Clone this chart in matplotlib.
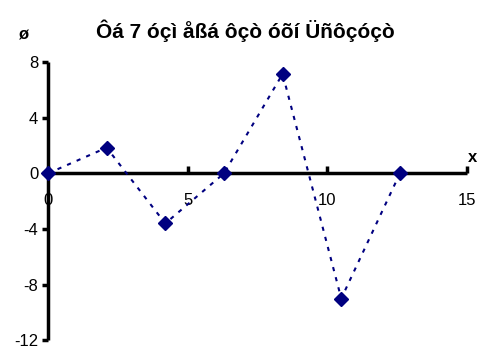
import matplotlib
matplotlib.use('Agg')
import matplotlib.pyplot as plt

plt.rcParams['font.family'] = ['Liberation Sans Narrow', 'Liberation Sans', 'DejaVu Sans']
plt.rcParams['axes.unicode_minus'] = False

# data
x_vals = [0, 2.1, 4.2, 6.3, 8.4, 10.5, 12.6]
y_vals = [0, 1.85, -3.6, 0, 7.15, -9.0, 0]
x_ticks = [0, 5, 10, 15]
y_ticks = [-12, -8, -4, 0, 4, 8]
title = 'Ôá 7 óçì åßá ôçò óõí Üñôçóçò'

fig = plt.figure(figsize=(4.81, 3.49), dpi=100)
ax = fig.add_axes([0.0998, 0.025, 0.871, 0.797])

ax.plot(x_vals, y_vals, color='#000080', linestyle=(0, (2, 3)), linewidth=1.5,
        marker='D', markersize=7, markerfacecolor='#000080', markeredgecolor='#000080',
        clip_on=False, zorder=5)

ax.set_xlim(0, 15)
ax.set_ylim(-12, 8)
ax.set_xticks(x_ticks)
ax.set_yticks(y_ticks)

ax.spines['top'].set_visible(False)
ax.spines['right'].set_visible(False)
ax.spines['bottom'].set_position(('data', 0))
ax.spines['left'].set_position(('data', 0))
for s in ('bottom', 'left'):
    ax.spines[s].set_linewidth(2.5)
    ax.spines[s].set_capstyle('butt')

ax.tick_params(axis='x', direction='in', length=5, width=2.5, labelsize=12, pad=14)
ax.tick_params(axis='y', direction='out', length=4, width=2.5, labelsize=12, pad=3)

fig.text(0.51, 0.912, title, fontsize=15, fontweight='bold', ha='center', va='center')
fig.text(0.048, 0.9, 'ø', fontsize=12, fontweight='bold', ha='center', va='center')
fig.text(0.982, 0.55, 'x', fontsize=12, fontweight='bold', ha='center', va='center')

fig.savefig('out.png', dpi=100)
